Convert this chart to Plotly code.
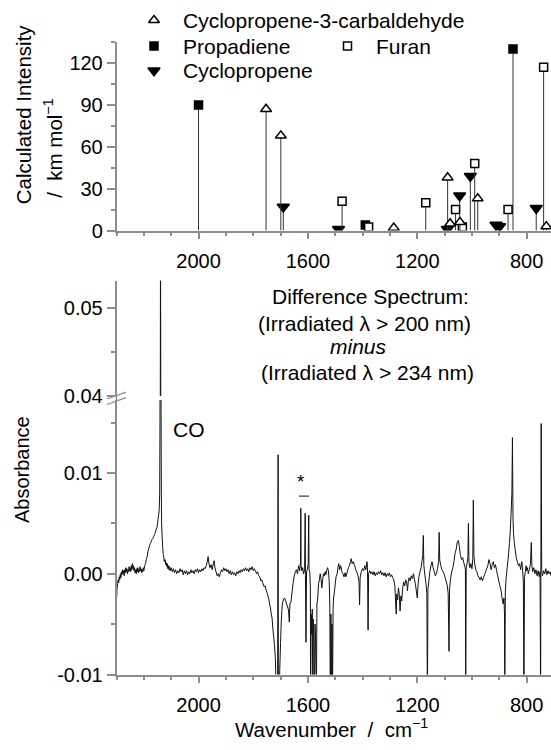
import plotly.graph_objects as go

# ---------------- data: calculated stick spectra (top panel) ----------------
cpc_wn = [1753, 1699, 1286, 1089, 1080, 1044, 979, 728]
cpc_int = [87, 68, 2, 38, 5, 6, 23, 3]
prop_wn = [2000, 1390, 850]
prop_int = [90, 4, 130]
furan_wn = [1475, 1378, 1169, 1060, 1035, 990, 868, 738]
furan_int = [21, 2.5, 20, 15, 2.5, 48, 15, 117]
cp_wn = [1690, 1488, 1090, 1045, 1006, 912, 899, 765]
cp_int = [17, 1, 1, 25, 39, 4, 3, 16]

# ---------------- data: difference spectrum (bottom panel) ----------------
spec_wn = [
    2300, 2298, 2296, 2294, 2292, 2290, 2288, 2286, 2284, 2282, 2280, 2278, 2276, 2274, 2272, 2270,
    2268, 2266, 2264, 2262, 2260, 2258, 2256, 2254, 2252, 2250, 2248, 2246, 2244, 2242, 2240, 2238,
    2236, 2234, 2232, 2230, 2228, 2226, 2224, 2222, 2220, 2218, 2216, 2214, 2212, 2210, 2208, 2206,
    2204, 2202, 2200, 2197, 2194, 2191, 2188, 2185, 2182, 2179, 2176, 2173, 2170, 2167, 2164, 2161,
    2158, 2155, 2152, 2150, 2148, 2146, 2144, 2142, 2141, 2140, 2139, 2138, 2137, 2136, 2135, 2133,
    2131, 2129, 2127, 2125, 2122, 2120, 2118, 2116, 2114, 2112, 2110, 2108, 2106, 2104, 2100, 2096,
    2092, 2088, 2084, 2080, 2076, 2072, 2068, 2064, 2060, 2056, 2052, 2048, 2044, 2040, 2036, 2032,
    2028, 2024, 2020, 2016, 2012, 2008, 2004, 2000, 1996, 1992, 1988, 1984, 1980, 1976, 1972, 1968,
    1965, 1962, 1958, 1954, 1950, 1946, 1943, 1940, 1936, 1932, 1928, 1924, 1920, 1916, 1912, 1908,
    1904, 1900, 1896, 1892, 1888, 1884, 1880, 1876, 1872, 1868, 1864, 1860, 1856, 1852, 1848, 1844,
    1840, 1836, 1832, 1828, 1824, 1820, 1816, 1812, 1808, 1804, 1800, 1796, 1792, 1788, 1784, 1780,
    1776, 1772, 1768, 1764, 1760, 1756, 1752, 1748, 1744, 1740, 1737, 1734, 1731, 1728, 1725, 1722,
    1719, 1717, 1714, 1711, 1709, 1708, 1705, 1703, 1700, 1697, 1694, 1690, 1686, 1682, 1678, 1674,
    1671, 1668, 1666, 1662, 1658, 1654, 1650, 1646, 1642, 1638, 1634, 1630, 1627, 1626, 1625, 1622,
    1619, 1616, 1612, 1610, 1609, 1607, 1605, 1602, 1599, 1597, 1596, 1593, 1591, 1590, 1588, 1586,
    1584, 1582, 1580, 1578, 1576, 1574, 1572, 1569, 1567, 1564, 1561, 1558, 1555, 1552, 1549, 1546,
    1543, 1540, 1537, 1534, 1531, 1528, 1525, 1522, 1520, 1518, 1516, 1514, 1512, 1510, 1508, 1506,
    1503, 1500, 1497, 1493, 1490, 1487, 1484, 1480, 1476, 1472, 1468, 1464, 1461, 1456, 1452, 1448,
    1444, 1442, 1438, 1434, 1429, 1425, 1420, 1416, 1413, 1411, 1409, 1405, 1400, 1396, 1392, 1388,
    1384, 1382, 1380, 1378, 1374, 1370, 1366, 1362, 1358, 1354, 1350, 1346, 1342, 1338, 1334, 1330,
    1326, 1322, 1318, 1314, 1310, 1306, 1302, 1298, 1294, 1290, 1286, 1282, 1279, 1277, 1275, 1272,
    1269, 1266, 1263, 1260, 1257, 1254, 1250, 1246, 1242, 1238, 1236, 1233, 1230, 1226, 1222, 1218,
    1214, 1210, 1206, 1203, 1200, 1197, 1194, 1190, 1186, 1183, 1180, 1178, 1176, 1172, 1168, 1165,
    1163, 1161, 1158, 1154, 1150, 1146, 1142, 1138, 1134, 1130, 1126, 1122, 1120, 1118, 1114, 1110,
    1106, 1102, 1098, 1094, 1090, 1087, 1084, 1082, 1078, 1074, 1070, 1066, 1062, 1058, 1054, 1050,
    1046, 1042, 1038, 1034, 1030, 1026, 1024, 1023, 1021, 1018, 1015, 1013, 1011, 1008, 1004, 1000,
    997, 995, 993, 990, 986, 982, 978, 974, 970, 966, 962, 958, 954, 950, 946, 942,
    938, 934, 930, 926, 922, 918, 914, 910, 906, 902, 898, 894, 890, 886, 883, 881,
    880, 878, 875, 872, 869, 866, 863, 860, 857, 854, 852, 850, 848, 845, 842, 838,
    834, 830, 826, 822, 818, 815, 812, 810, 808, 805, 802, 800, 797, 794, 790, 786,
    783, 781, 778, 774, 770, 766, 762, 758, 754, 751, 749, 747, 745, 742, 738, 734,
    730, 726, 722, 718, 714, 711,
]
spec_abs = [
    -0.0026, -0.0015, -0.0010, -0.0006, -0.0009, -0.0003, -0.0006, 0.0000, -0.0004, 0.0002, -0.0001, 0.0004, 0.0000, 0.0003, -0.0002, 0.0004,
    0.0001, 0.0006, 0.0002, 0.0005, 0.0000, 0.0004, 0.0002, 0.0007, 0.0003, 0.0006, 0.0002, 0.0008, 0.0004, 0.0010, 0.0005, 0.0008,
    0.0003, 0.0006, 0.0001, 0.0004, 0.0000, 0.0005, 0.0002, 0.0006, 0.0001, 0.0004, 0.0002, 0.0007, 0.0003, 0.0005, 0.0001, 0.0004,
    0.0002, 0.0006, 0.0003, 0.0008, 0.0010, 0.0014, 0.0017, 0.0022, 0.0025, 0.0028, 0.0030, 0.0032, 0.0034, 0.0035, 0.0037, 0.0039,
    0.0041, 0.0044, 0.0046, 0.0050, 0.0054, 0.0058, 0.0063, 0.0080, 0.0150, 0.0350, 0.0600, 0.0380, 0.0160, 0.0080, 0.0050, 0.0036,
    0.0026, 0.0019, 0.0016, 0.0012, 0.0014, 0.0009, 0.0011, 0.0007, 0.0010, 0.0005, 0.0008, 0.0004, 0.0007, 0.0003, 0.0006, 0.0002,
    0.0005, 0.0001, 0.0004, 0.0000, 0.0003, 0.0001, 0.0005, 0.0002, 0.0004, -0.0001, 0.0003, 0.0000, 0.0003, -0.0001, 0.0002, 0.0000,
    0.0004, 0.0001, 0.0003, 0.0000, 0.0004, 0.0002, 0.0005, 0.0001, 0.0004, 0.0002, 0.0005, 0.0003, 0.0006, 0.0005, 0.0008, 0.0012,
    0.0017, 0.0010, 0.0006, 0.0009, 0.0004, 0.0010, 0.0013, 0.0006, 0.0002, -0.0002, 0.0000, -0.0003, 0.0001, 0.0004, 0.0002, 0.0006,
    0.0003, 0.0005, 0.0002, 0.0004, 0.0000, 0.0003, -0.0001, 0.0002, -0.0001, 0.0001, -0.0002, 0.0002, 0.0000, 0.0003, 0.0001, 0.0004,
    0.0002, 0.0005, 0.0003, 0.0006, 0.0003, 0.0005, 0.0002, 0.0006, 0.0004, 0.0007, 0.0003, 0.0005, 0.0003, 0.0000, 0.0002, -0.0002,
    -0.0003, -0.0007, -0.0006, -0.0010, -0.0013, -0.0012, -0.0017, -0.0020, -0.0024, -0.0030, -0.0034, -0.0040, -0.0044, -0.0055, -0.0063, -0.0072,
    -0.0084, -0.0105, -0.0130, -0.0140, 0.0118, -0.0130, -0.0120, -0.0095, -0.0068, -0.0045, -0.0031, -0.0026, -0.0024, -0.0026, -0.0030, -0.0033,
    -0.0036, -0.0048, -0.0030, -0.0028, -0.0018, -0.0009, -0.0002, 0.0002, 0.0004, 0.0000, 0.0008, 0.0003, 0.0012, 0.0065, 0.0008, 0.0003,
    0.0006, 0.0000, 0.0004, 0.0060, -0.0002, -0.0068, 0.0002, 0.0004, 0.0010, 0.0058, 0.0005, 0.0001, -0.0014, -0.0120, -0.0040, -0.0060,
    -0.0035, -0.0130, -0.0045, -0.0070, -0.0125, -0.0050, -0.0065, -0.0120, -0.0030, -0.0024, -0.0010, -0.0006, 0.0000, -0.0005, -0.0014, -0.0006,
    0.0000, -0.0002, 0.0002, -0.0001, 0.0004, 0.0006, 0.0003, -0.0008, -0.0030, -0.0130, -0.0040, -0.0130, -0.0050, -0.0125, -0.0035, -0.0024,
    -0.0018, -0.0010, -0.0003, 0.0000, 0.0006, 0.0010, 0.0004, 0.0008, 0.0002, 0.0000, -0.0003, 0.0001, -0.0003, 0.0002, 0.0006, 0.0008,
    0.0012, 0.0015, 0.0010, 0.0012, 0.0008, 0.0004, 0.0001, -0.0003, -0.0008, -0.0031, -0.0004, 0.0002, 0.0005, 0.0003, 0.0008, 0.0004,
    0.0012, 0.0006, -0.0056, 0.0000, 0.0003, 0.0000, 0.0002, -0.0001, 0.0002, -0.0002, 0.0001, -0.0001, 0.0002, 0.0000, 0.0003, -0.0001,
    0.0001, -0.0002, 0.0001, -0.0003, 0.0000, -0.0002, 0.0001, -0.0003, -0.0001, -0.0004, -0.0006, -0.0012, -0.0030, -0.0040, -0.0020, -0.0026,
    -0.0014, -0.0020, -0.0037, -0.0022, -0.0027, -0.0016, -0.0008, -0.0012, -0.0006, -0.0010, -0.0017, -0.0008, -0.0004, -0.0007, -0.0002, -0.0005,
    0.0000, -0.0006, -0.0012, -0.0018, -0.0024, -0.0010, -0.0003, 0.0002, 0.0006, 0.0012, 0.0018, 0.0038, 0.0008, -0.0002, -0.0010, -0.0020,
    -0.0130, -0.0015, -0.0008, 0.0002, 0.0008, 0.0012, 0.0006, 0.0002, -0.0002, 0.0000, 0.0005, 0.0012, 0.0041, 0.0014, 0.0008, 0.0004,
    0.0002, 0.0000, -0.0004, -0.0008, -0.0012, -0.0020, -0.0077, -0.0015, -0.0004, 0.0002, 0.0006, 0.0012, 0.0020, 0.0024, 0.0031, 0.0033,
    0.0027, 0.0018, 0.0014, 0.0016, 0.0011, 0.0007, 0.0004, -0.0130, 0.0006, 0.0010, 0.0016, 0.0050, 0.0012, 0.0006, 0.0010, 0.0005,
    0.0015, 0.0073, 0.0018, 0.0010, 0.0004, 0.0002, -0.0002, -0.0004, -0.0006, -0.0003, -0.0007, -0.0004, -0.0001, 0.0002, 0.0005, 0.0008,
    0.0014, 0.0010, 0.0004, 0.0009, 0.0012, 0.0006, 0.0009, 0.0003, -0.0002, -0.0007, -0.0012, -0.0016, -0.0024, -0.0030, -0.0024, -0.0040,
    -0.0130, -0.0018, -0.0004, 0.0004, 0.0012, 0.0020, 0.0030, 0.0042, 0.0060, 0.0080, 0.0135, 0.0055, 0.0040, 0.0030, 0.0024, 0.0016,
    0.0012, 0.0008, 0.0010, 0.0004, 0.0012, 0.0006, -0.0010, -0.0130, -0.0004, 0.0002, 0.0008, 0.0003, 0.0006, 0.0000, 0.0004, 0.0010,
    0.0031, 0.0008, 0.0002, 0.0006, 0.0000, 0.0004, -0.0002, 0.0003, -0.0003, 0.0002, -0.0130, 0.0149, 0.0003, -0.0002, 0.0003, 0.0000,
    0.0005, -0.0001, 0.0003, 0.0000, 0.0002, -0.0002,
]

x_ticks = [2000, 1600, 1200, 800]
top_y_ticks = [0, 30, 60, 90, 120]
low_y_ticks = [-0.01, 0.0, 0.01]
low_y_text = ["-0.01", "0.00", "0.01"]
up_y_ticks = [0.04, 0.05]
up_y_text = ["0.04", "0.05"]

# ---------------- styling ----------------
W, H = 551, 750
FONT = "Liberation Sans, Arial, sans-serif"
AX = "#8c8c8c"
FS = 20
FT = 21


def px(xp):
    return xp / W


def py(yp):
    return 1 - yp / H


fig = go.Figure()


def sticks(wn, inten, symbol, fill, size):
    fig.add_trace(go.Scatter(
        x=wn, y=inten, mode="markers", xaxis="x", yaxis="y",
        marker=dict(symbol=symbol, size=size, color=fill,
                    line=dict(color="black", width=1.5)),
        error_y=dict(type="data", symmetric=False, array=[0] * len(inten),
                     arrayminus=inten, width=0, thickness=1, color="#333333"),
        showlegend=False, hoverinfo="skip"))


SZ_SQ, SZ_DN, SZ_UP = 8, 10.5, 9.5
sticks(prop_wn, prop_int, "square", "black", SZ_SQ)
sticks(cp_wn, cp_int, "triangle-down", "black", SZ_DN)
sticks(furan_wn, furan_int, "square", "white", SZ_SQ)
sticks(cpc_wn, cpc_int, "triangle-up", "white", SZ_UP)

# spectrum: lower segment and upper (broken) segment
for ya in ("y2", "y3"):
    fig.add_trace(go.Scatter(x=spec_wn, y=spec_abs, mode="lines", xaxis="x2", yaxis=ya,
                             line=dict(color="#111111", width=1, simplify=False),
                             showlegend=False, hoverinfo="skip"))

# legend symbols on a pixel-mapped helper axis
leg_sym = [("triangle-up", "white", SZ_UP, 154, 20.5),
           ("square", "black", SZ_SQ, 154, 46.8),
           ("triangle-down", "black", SZ_DN, 154, 71.6),
           ("square", "white", SZ_SQ, 347.5, 46.8)]
for sym, fill, size, lx, ly in leg_sym:
    fig.add_trace(go.Scatter(x=[lx], y=[ly], mode="markers", xaxis="x3", yaxis="y4",
                             marker=dict(symbol=sym, size=size, color=fill,
                                         line=dict(color="black", width=1.5)),
                             showlegend=False, hoverinfo="skip"))

xdom = [px(116.5), 1]
common_x = dict(range=[2300, 711], domain=xdom, showline=True, linecolor=AX, linewidth=1.5,
                ticks="outside", ticklen=7, tickwidth=1.5, tickcolor=AX,
                tickmode="array", tickvals=x_ticks, ticktext=[str(v) for v in x_ticks],
                minor=dict(tick0=2000, dtick=100, ticks="outside", ticklen=3.5,
                           tickwidth=1.5, tickcolor=AX),
                ticklabelstandoff=5,
                showgrid=False, zeroline=False, tickfont=dict(size=FS, color="black"))
common_y = dict(showline=True, linecolor=AX, linewidth=1.5, ticks="outside", ticklen=8,
                tickwidth=1.5, tickcolor=AX, showgrid=False, zeroline=False,
                tickfont=dict(size=FS, color="black"), tickmode="array")

fig.update_layout(
    width=W, height=H, margin=dict(l=0, r=0, t=0, b=0),
    paper_bgcolor="white", plot_bgcolor="rgba(0,0,0,0)",
    font=dict(family=FONT, size=FS, color="black"),
    showlegend=False,
    xaxis=dict(anchor="y", **common_x),
    xaxis2=dict(anchor="y2", **common_x),
    yaxis=dict(anchor="x", domain=[py(234), py(42.7)], range=[0, 135],
               tickvals=top_y_ticks, ticktext=[str(v) for v in top_y_ticks],
               minor=dict(tick0=0, dtick=15, ticks="outside", ticklen=3.5, tickwidth=1.5,
                          tickcolor=AX), **common_y),
    yaxis2=dict(anchor="x2", domain=[py(684.6), py(406)], range=[-0.01, 0.01723],
                tickvals=low_y_ticks, ticktext=low_y_text,
                minor=dict(tick0=0, dtick=0.005, ticks="outside", ticklen=3.5, tickwidth=1.5,
                           tickcolor=AX), **common_y),
    yaxis3=dict(anchor="x2", domain=[py(402), py(285)], range=[0.04, 0.0531],
                tickvals=up_y_ticks, ticktext=up_y_text,
                minor=dict(tick0=0.04, dtick=0.005, ticks="outside", ticklen=3.5, tickwidth=1.5,
                           tickcolor=AX), **common_y),
    xaxis3=dict(domain=[0, 1], range=[0, W], anchor="y4", visible=False, fixedrange=True),
    yaxis4=dict(domain=[0, 1], range=[H, 0], anchor="x3", visible=False, fixedrange=True),
)

shapes = [
    # axis line through the break
    dict(type="line", xref="paper", yref="paper", x0=px(116.5), x1=px(116.5), y0=py(402), y1=py(406),
         line=dict(color=AX, width=1.5)),
    # break marks
    dict(type="line", xref="paper", yref="paper", x0=px(107), x1=px(126), y0=py(405), y1=py(398),
         line=dict(color=AX, width=1.2)),
    dict(type="line", xref="paper", yref="paper", x0=px(107), x1=px(126), y0=py(410.5), y1=py(403.5),
         line=dict(color=AX, width=1.2)),
    # dash under asterisk
    dict(type="line", xref="paper", yref="paper", x0=px(299), x1=px(309), y0=py(503.5), y1=py(503.5),
         line=dict(color="#333333", width=1.2)),
]
fig.update_layout(shapes=shapes)

ann = []


def text(t, xp, yp, xanchor="center", size=FT, angle=0):
    ann.append(dict(text=t, x=px(xp), y=py(yp), xref="paper", yref="paper", showarrow=False,
                    xanchor=xanchor, yanchor="middle", textangle=angle,
                    font=dict(size=size, color="black", family=FONT)))


text("Cyclopropene-3-carbaldehyde", 181, 20.5, "left")
text("Propadiene", 181, 46.8, "left")
text("Furan", 374, 46.8, "left")
text("Cyclopropene", 181, 71.6, "left")
text("Calculated Intensity", 23, 116, size=20.5, angle=-90)
text("/  km mol<sup>\u22121</sup>", 53, 150, size=20.5, angle=-90)
text("Absorbance", 22, 477, size=20, angle=-90)
text("Wavenumber  /  cm<sup>\u22121</sup>", 331, 739, size=20.5)
text("Difference Spectrum:", 370, 300.7)
text("(Irradiated \u03bb > 200 nm)", 364, 327.9)
text("<i>minus</i>", 358, 352)
text("(Irradiated \u03bb > 234 nm)", 367, 378.5)
text("CO", 189, 436)
text("*", 301, 489, size=19)
fig.update_layout(annotations=ann)

fig.write_html("out.html", config=dict(displayModeBar=False),
               post_script="document.body.style.margin='0px';")
